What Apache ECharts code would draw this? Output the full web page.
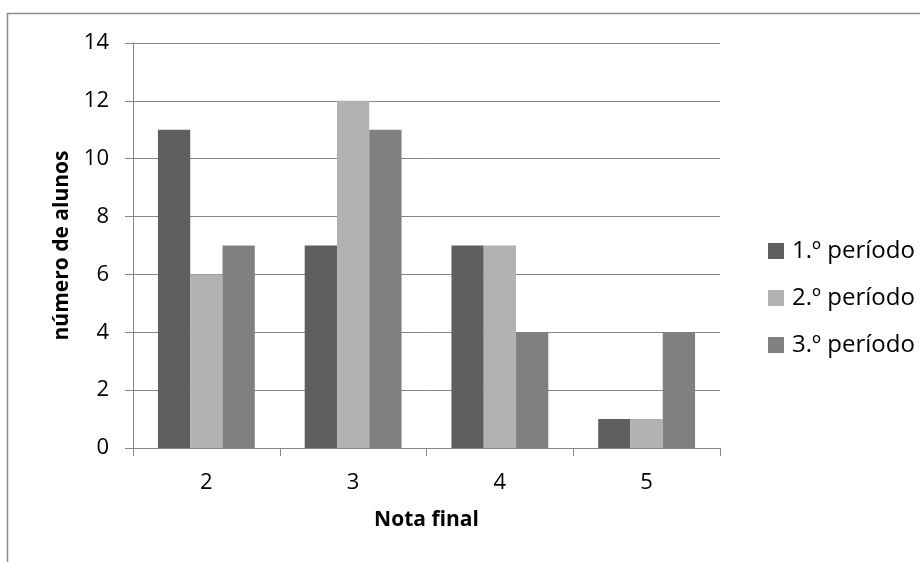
<!DOCTYPE html>
<html><head><meta charset="utf-8">
<script src="https://cdn.jsdelivr.net/npm/echarts@6/dist/echarts.min.js"></script>
<style>html,body{margin:0;padding:0;background:#fff}#c{width:920px;height:562px}</style>
</head><body><div id="c"></div>
<script>
const categories = ['2','3','4','5'];
const seriesNames = ['1.º período','2.º período','3.º período'];
const p1 = [11, 7, 7, 1];
const p2 = [6, 12, 7, 1];
const p3 = [7, 11, 4, 4];
const colors = ['#5f5f5f','#b2b2b2','#808080'];
const font = '"Open Sans", "Noto Sans", sans-serif';
const chart = echarts.init(document.getElementById('c'));
const values = [p1,p2,p3];
chart.setOption({
  animation:false,
  graphic:[{type:'rect',shape:{x:7.5,y:13.5,width:950,height:600},style:{fill:'none',stroke:'#8c8c8c',lineWidth:1.5},silent:true}],
  grid:{left:133,top:43,right:200,bottom:114,containLabel:false},
  legend:{orient:'vertical',left:763,top:234,itemWidth:16,itemHeight:16,itemGap:23,icon:'rect',
    textStyle:{fontFamily:font,fontSize:24,color:'#000',padding:[0,0,0,3]},data:seriesNames},
  xAxis:{type:'category',data:categories,name:'Nota final',nameLocation:'middle',nameGap:62,
    nameTextStyle:{fontFamily:font,fontWeight:'bold',fontSize:21,color:'#000'},
    axisLine:{lineStyle:{color:'#868686',width:1}},
    axisTick:{show:true,length:8,lineStyle:{color:'#868686'}},
    axisLabel:{fontFamily:font,fontSize:22,color:'#000',margin:24}},
  yAxis:{type:'value',min:0,max:14,interval:2,name:'número de alunos',nameLocation:'middle',nameGap:60,
    nameTextStyle:{fontFamily:font,fontWeight:'bold',fontSize:21,color:'#000'},
    axisLine:{show:true,lineStyle:{color:'#868686'}},
    axisTick:{show:true,length:8,lineStyle:{color:'#868686'}},
    splitLine:{lineStyle:{color:'#868686',width:1}},
    axisLabel:{fontFamily:font,fontSize:22,color:'#000',margin:24}},
  series: seriesNames.map((n,i)=>({name:n,type:'bar',data:values[i],barGap:'0%',barCategoryGap:'34%',
    itemStyle:{color:colors[i]}}))
});
</script></body></html>
